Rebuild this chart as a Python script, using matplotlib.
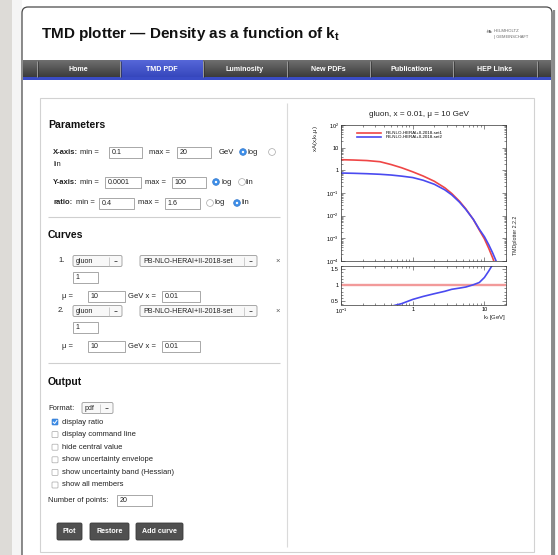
import matplotlib
matplotlib.use('Agg')
import matplotlib.pyplot as plt
from matplotlib.patches import Rectangle, FancyBboxPatch, Circle
from matplotlib.colors import LinearSegmentedColormap
from matplotlib.ticker import FixedLocator, FixedFormatter, NullFormatter
import numpy as np

plt.rcParams['font.family'] = ['Liberation Sans', 'DejaVu Sans']
plt.rcParams['mathtext.fontset'] = 'custom'
plt.rcParams['mathtext.rm'] = 'Liberation Sans'
plt.rcParams['mathtext.it'] = 'Liberation Sans:italic'
plt.rcParams['mathtext.bf'] = 'Liberation Sans:bold'

# ---------------- data ----------------
kt = [0.1, 0.15, 0.23, 0.35, 0.5, 0.7, 1.0, 1.4, 2.0, 2.8, 3.5, 4.5, 5.5,
      7.0, 8.5, 10.0, 11.5, 13.0, 15.0, 20.0]
set1 = [2.95, 2.85, 2.7, 2.4, 1.8, 1.3, 0.86, 0.56, 0.33, 0.17, 0.095, 0.043,
        0.020, 0.0068, 0.0023, 0.00095, 0.00036, 0.00014, 0.00004, 0.000002]
set2 = [0.76, 0.74, 0.71, 0.67, 0.62, 0.555, 0.48, 0.365, 0.243, 0.138, 0.083,
        0.0392, 0.0189, 0.0069, 0.0025, 0.00118, 0.00052, 0.00023, 0.00008,
        0.000005]
series_names = ['PB-NLO-HERAI+II-2018-set1', 'PB-NLO-HERAI+II-2018-set2']
xmain_ticks = [0.1, 1, 10]
xmain_labels = [r'$10^{-1}$', '1', '10']
ymain_ticks = [1e-4, 1e-3, 1e-2, 1e-1, 1, 10, 100]
ymain_labels = [r'$10^{-4}$', r'$10^{-3}$', r'$10^{-2}$', r'$10^{-1}$', '1', '10', r'$10^{2}$']
yratio_ticks = [0.5, 1.0, 1.5]
yratio_labels = ['0.5', '1', '1.5']
tabs = ['Home', 'TMD PDF', 'Luminosity', 'New PDFs', 'Publications', 'HEP Links']
checks = ['display ratio', 'display command line', 'hide central value',
          'show uncertainty envelope', 'show uncertainty band (Hessian)',
          'show all members']
checked = [True, False, False, False, False, False]

W, H = 558, 555
fig = plt.figure(figsize=(W / 100, H / 100), dpi=100)
bg = fig.add_axes([0, 0, 1, 1])
bg.axis('off')


def P(px):
    return px * 0.72


def T(x, y, s, px=7.6, weight='normal', color='#222222', ha='left', va='center', **kw):
    bg.text(x, y, s, fontsize=P(px), fontweight=weight, color=color, ha=ha, va=va,
            zorder=20, **kw)


def rect(x0, y0, x1, y1, fc='white', ec='none', lw=0.8, z=1, r=0):
    if r > 0:
        p = FancyBboxPatch((x0, y0), x1 - x0, y1 - y0,
                           boxstyle=f'round,pad=0,rounding_size={r}',
                           fc=fc, ec=ec, lw=lw, zorder=z)
    else:
        p = Rectangle((x0, y0), x1 - x0, y1 - y0, fc=fc, ec=ec, lw=lw, zorder=z)
    bg.add_patch(p)


def grad(x0, y0, x1, y1, c_top, c_bot, z=2):
    cm = LinearSegmentedColormap.from_list('g', [c_top, c_bot])
    bg.imshow(np.linspace(0, 1, 32)[:, None], extent=(x0, x1, y1, y0),
              cmap=cm, aspect='auto', zorder=z, interpolation='bilinear')


def line(x0, y0, x1, y1, c='#cccccc', lw=0.8, z=3):
    bg.plot([x0, x1], [y0, y1], color=c, lw=lw, zorder=z, solid_capstyle='butt')


def inbox(x0, x1, y, s, h=11):
    rect(x0, y - h / 2, x1, y + h / 2, fc='white', ec='#9a9a9a', lw=0.6, z=4)
    T(x0 + 2.5, y + 0.3, s, px=7.2)


def select(x0, x1, y, s, h=11):
    rect(x0, y - h / 2, x1, y + h / 2, fc='#f8f8f8', ec='#9a9a9a', lw=0.6, z=4, r=1.5)
    T(x0 + 3, y + 0.3, s, px=7.2)
    line(x1 - 13, y - h / 2 + 1, x1 - 13, y + h / 2 - 1, c='#bbbbbb', lw=0.5, z=5)
    line(x1 - 8.5, y, x1 - 5.5, y, c='#555555', lw=0.7, z=5)


def radio(x, y, sel):
    if sel:
        bg.add_patch(Circle((x, y), 3.4, fc='#3d8ee8', ec='#2f74c8', lw=0.4, zorder=5))
        bg.add_patch(Circle((x, y), 1.2, fc='white', ec='none', zorder=6))
    else:
        bg.add_patch(Circle((x, y), 3.4, fc='white', ec='#a8a8a8', lw=0.5, zorder=5))


def checkbox(x, y, on):
    if on:
        rect(x - 3, y - 3, x + 3, y + 3, fc='#3d8ee8', ec='#2f74c8', lw=0.4, z=5, r=0.8)
        bg.plot([x - 1.8, x - 0.4, x + 1.9], [y + 0.1, y + 1.5, y - 1.6], color='white', lw=0.7, zorder=6)
    else:
        rect(x - 3, y - 3, x + 3, y + 3, fc='white', ec='#a8a8a8', lw=0.5, z=5, r=0.8)


def button(x0, x1, y0, y1, s):
    rect(x0, y0, x1, y1, fc='#505050', ec='#3a3a3a', lw=0.6, z=4, r=1.5)
    T((x0 + x1) / 2, (y0 + y1) / 2 + 0.3, s, px=7.2, color='white', ha='center', weight='bold')


# ---------------- page ----------------
rect(0, 0, 12, H, fc='#dddbd7', z=0)
rect(12, 0, 22, H, fc='#f5f5f5', z=0)
rect(22, 7, 552, H + 20, fc='white', ec='#4a4a4a', lw=0.9, z=1, r=6)
line(553.6, 10, 553.6, H, c='#8a8a8a', lw=1.6, z=1)

# title and logo
T(41, 34, r'TMD plotter — Density as a function of k$_\mathbf{t}$', px=15.3, weight='bold', color='#111111')
bg.text(489, 31.5, '\u2767', fontsize=P(8), color='#666666', ha='center', va='center',
        family=['DejaVu Sans'], zorder=20)
T(494, 31.5, 'HELMHOLTZ', px=4.3, color='#666666')
T(494, 37, '| GEMEINSCHAFT', px=4.0, color='#666666')

# nav bar
grad(23, 61, 551, 77.5, '#6e6e6e', '#3c3c3c')
seps = [37, 120, 203, 287, 370, 453, 537]
grad(seps[1], 61, seps[2], 77.5, '#5667d8', '#3647bd', z=3)
rect(23, 77.2, 551, 80.2, fc='#3a4cc6', z=4)
for sx in seps:
    line(sx, 61, sx, 77.2, c='#9a9a9a', lw=0.7, z=4)
    line(sx + 0.9, 61, sx + 0.9, 77.2, c='#2a2a2a', lw=0.4, z=4)
for i, name in enumerate(tabs):
    T((seps[i] + seps[i + 1]) / 2, 69.5, name, px=7.1, color='white', ha='center', weight='bold')

# content panel
rect(40, 98, 534, 552, fc='white', ec='#d2d2d2', lw=0.8, z=2)
line(287, 103, 287, 547, c='#dadada', lw=0.8)

# ---------------- form ----------------
T(48, 125, 'Parameters', px=10.5, weight='bold', color='#111111')
y = 152
T(53, y, 'X-axis:', weight='bold'); T(80, y, 'min ='); inbox(109, 142, y, '0.1')
T(149, y, 'max ='); inbox(177, 211, y, '20'); T(219, y, 'GeV')
radio(243, y, True); T(248, y, 'log'); radio(272, y, False)
T(53, 164, 'lin')
y = 182
T(53, y, 'Y-axis:', weight='bold'); T(80, y, 'min ='); inbox(105, 141, y, '0.0001')
T(145, y, 'max ='); inbox(172, 206, y, '100')
radio(216, y, True); T(221, y, 'log'); radio(242, y, False); T(246, y, 'lin')
y = 203
T(53, y, 'ratio:', weight='bold'); T(76, y, 'min ='); inbox(99, 134, y, '0.4')
T(138, y, 'max ='); inbox(165, 200, y, '1.6')
radio(210, y, False); T(214.5, y, 'log'); radio(237, y, True); T(241.5, y, 'lin')
line(48, 217, 280, 217, c='#cfcfcf')

T(48, 235, 'Curves', px=10.5, weight='bold', color='#111111')
for k, y0 in enumerate([261, 311]):
    T(58, y0, f'{k + 1}.')
    select(73, 122, y0, 'gluon')
    select(140, 257, y0, 'PB-NLO-HERAI+II-2018-set')
    T(278, y0, '×', ha='center', color='#555555')
    inbox(73, 98, y0 + 16.5, '1')
    ym = y0 + 35
    T(62, ym, 'μ ='); inbox(88, 125, ym, '10'); T(128, ym, 'GeV x ='); inbox(162, 200, ym, '0.01')
line(48, 363, 280, 363, c='#cfcfcf')

T(48, 382, 'Output', px=10.5, weight='bold', color='#111111')
T(48, 408, 'Format:'); select(82, 113, 408, 'pdf')
for i, (lab, on) in enumerate(zip(checks, checked)):
    yy = 422 + i * 12.6
    checkbox(55, yy, on)
    T(62, yy, lab)
T(48, 500, 'Number of points:'); inbox(117, 152, 500, '20')
button(57, 82, 523, 540, 'Plot')
button(90, 129, 523, 540, 'Restore')
button(136, 183, 523, 540, 'Add curve')

bg.set_xlim(0, W)
bg.set_ylim(H, 0)

# ---------------- plot ----------------
red = '#ef4646'
blue = '#4a4af0'
L, R = 341, 506
ax1 = fig.add_axes([L / W, 1 - 261 / H, (R - L) / W, (261 - 125) / H])
ax2 = fig.add_axes([L / W, 1 - 304.5 / H, (R - L) / W, (304.5 - 266) / H])

ax1.plot(kt, set1, color=red, lw=1.2, label=series_names[0])
ax1.plot(kt, set2, color=blue, lw=1.2, label=series_names[1])
ratio1 = [a / a for a in set1]
ratio2 = [b / a for a, b in zip(set1, set2)]
ax2.plot(kt, ratio1, color='#f29a9a', lw=1.7)
ax2.plot(kt, ratio2, color=blue, lw=1.2)

minor_x = [m * 10.0 ** e for e in (-1, 0, 1) for m in range(2, 10)]
minor_y = [m * 10.0 ** e for e in range(-4, 2) for m in range(2, 10)]
for ax in (ax1, ax2):
    ax.set_xscale('log')
    ax.set_xlim(0.1, 20)
    ax.xaxis.set_major_locator(FixedLocator(xmain_ticks))
    ax.xaxis.set_minor_locator(FixedLocator(minor_x))
    ax.xaxis.set_minor_formatter(NullFormatter())
    ax.tick_params(which='both', direction='in', top=True, right=True,
                   width=0.4, color='#333333', labelsize=P(5.6), pad=1.5)
    ax.tick_params(which='major', length=3)
    ax.tick_params(which='minor', length=1.5)
    for s in ax.spines.values():
        s.set_linewidth(0.5)
        s.set_color('#333333')

ax1.set_yscale('log')
ax1.set_ylim(1e-4, 100)
ax1.yaxis.set_major_locator(FixedLocator(ymain_ticks))
ax1.yaxis.set_major_formatter(FixedFormatter(ymain_labels))
ax1.yaxis.set_minor_locator(FixedLocator(minor_y))
ax1.yaxis.set_minor_formatter(NullFormatter())
ax1.tick_params(labelbottom=False)

ax2.set_ylim(0.4, 1.6)
ax2.yaxis.set_major_locator(FixedLocator(yratio_ticks))
ax2.yaxis.set_major_formatter(FixedFormatter(yratio_labels))
ax2.yaxis.set_minor_locator(FixedLocator([0.4 + 0.1 * i for i in range(13)]))
ax2.xaxis.set_major_formatter(FixedFormatter(xmain_labels))

ax1.legend(loc='upper left', bbox_to_anchor=((357 - L) / (R - L), (261 - 131.0) / 136),
           frameon=False, fontsize=P(4.4), handlelength=5.4, handletextpad=1.1,
           labelspacing=0.05, borderpad=0, borderaxespad=0)

fig.text(419 / W, 1 - 115 / H, r'gluon, x = 0.01, μ = 10 GeV', fontsize=P(8.2),
         ha='center', va='center', color='#222222')
fig.text(315 / W, 1 - 125 / H, r'xA(x,k$_\mathrm{t}$,μ)', fontsize=P(6), rotation=90,
         ha='center', va='top', color='#222222')
fig.text(R / W, 1 - 318 / H, r'k$_\mathrm{t}$ [GeV]', fontsize=P(6),
         ha='right', va='center', color='#222222')
fig.text(516 / W, 1 - 235 / H, 'TMDplotter 2.2.2', fontsize=P(5.2), rotation=90,
         ha='center', va='center', color='#222222')

fig.savefig('out.png', dpi=100)
